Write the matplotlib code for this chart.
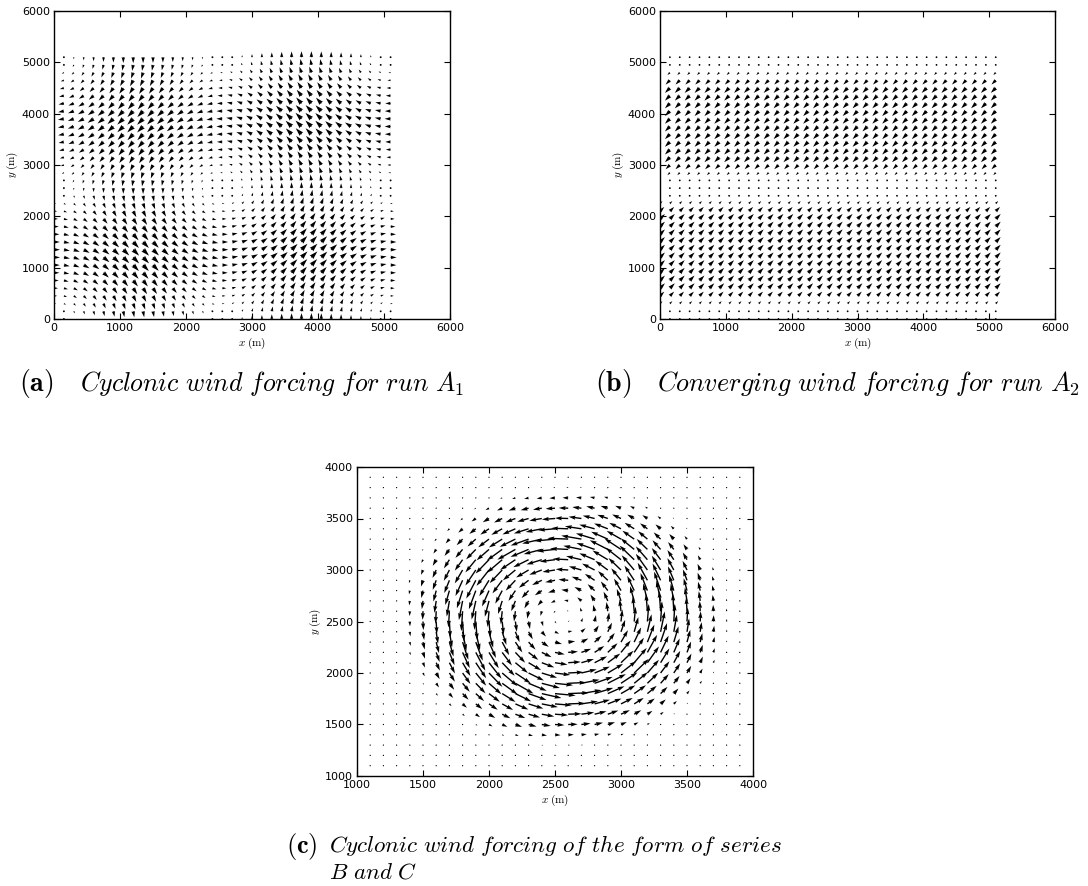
import numpy as np
import matplotlib
matplotlib.use("Agg")
import matplotlib.pyplot as plt

plt.rcParams["mathtext.fontset"] = "cm"
plt.rcParams["font.family"] = "DejaVu Sans"

# ---- forcing grids (m) ----
grid_ab = np.arange(0, 5101, 150)          # run A grid, both directions
grid_c = np.arange(1100, 3901, 100)        # series B/C grid, both directions

# ---- run A1: cellular cyclonic forcing ----
cell_period = 5100.0      # wavelength of the forcing pattern (m)
cell_amp = 1.0            # wind amplitude

# ---- run A2: two converging bands ----
band_lower = (150.0, 2400.0)   # lower band, wind towards north-east
band_upper = (2700.0, 4950.0)  # upper band, wind towards south-west
band_ramp = 450.0              # width of the smooth edge of each band (m)
band_amp = 1.0

# ---- series B/C: single cyclonic vortex ----
vortex_centre = (2570.0, 2550.0)
vortex_rmax = 750.0     # radius of maximum wind (m)
vortex_rout = 1300.0    # radius where the wind vanishes (m)
vortex_amp = 1.0

# ---------------------------------------------------------------
Xa, Ya = np.meshgrid(grid_ab, grid_ab)
Ua = cell_amp * np.sin(2 * np.pi * Ya / cell_period)
Va = -cell_amp * np.sin(2 * np.pi * Xa / cell_period)


def band_profile(y, lo, hi, ramp):
    d = np.minimum(y - lo, hi - y)
    p = np.clip(d / ramp, 0.0, 1.0)
    return np.where(d > 0, np.sin(0.5 * np.pi * p), 0.0)


sb = band_amp * (band_profile(Ya, *band_lower, band_ramp)
                 - band_profile(Ya, *band_upper, band_ramp))
Ub = sb.copy()
Vb = sb.copy()

Xc, Yc = np.meshgrid(grid_c, grid_c)
dx = Xc - vortex_centre[0]
dy = Yc - vortex_centre[1]
r = np.hypot(dx, dy)
speed = np.where(
    r < vortex_rmax,
    r / vortex_rmax,
    np.clip(1 - (r - vortex_rmax) / (vortex_rout - vortex_rmax), 0, 1),
) * vortex_amp
with np.errstate(invalid="ignore", divide="ignore"):
    Uc = np.where(r > 0, -speed * dy / r, 0.0)
    Vc = np.where(r > 0, speed * dx / r, 0.0)

# ---------------------------------------------------------------
W, H = 1088, 886
fig = plt.figure(figsize=(W / 100, H / 100), dpi=100)


def px_axes(left, top, right, bottom):
    return fig.add_axes([left / W, 1 - bottom / H, (right - left) / W, (bottom - top) / H])


def style(ax, lim_x, lim_y, ticks):
    ax.set_xlim(*lim_x)
    ax.set_ylim(*lim_y)
    ax.set_xticks(ticks)
    ax.set_yticks(ticks)
    ax.tick_params(direction="in", length=4, width=0.8, top=True, right=True,
                   labelsize=8, pad=3)
    for s in ax.spines.values():
        s.set_linewidth(1.0)
    ax.set_xlabel(r"$x\;(\mathrm{m})$", fontsize=8, labelpad=2)
    ax.set_ylabel(r"$y\;(\mathrm{m})$", fontsize=8, labelpad=1)


qkw = dict(color="k", pivot="tail", units="width", scale_units="width",
           headwidth=3, headlength=5, headaxislength=4.5)

ax_a = px_axes(54, 11, 450, 319)
ax_a.quiver(Xa, Ya, Ua, Va, scale=66, width=0.0052, **qkw)
style(ax_a, (0, 6000), (0, 6000), np.arange(0, 6001, 1000))

ax_b = px_axes(660, 11, 1055, 319)
ax_b.quiver(Xa, Ya, Ub, Vb, scale=80, width=0.0050, **qkw)
style(ax_b, (0, 6000), (0, 6000), np.arange(0, 6001, 1000))

ax_c = px_axes(357, 467, 753, 776)
ax_c.quiver(Xc, Yc, Uc, Vc, scale=19, width=0.0035, **qkw)
style(ax_c, (1000, 4000), (1000, 4000), np.arange(1000, 4001, 500))

# ---- captions ----
fig.text(19 / W, 1 - 383 / H, r"$\mathbf{(a)}$", fontsize=20, va="center", ha="left")
fig.text(80 / W, 1 - 383 / H, r"$\mathit{Cyclonic\ wind\ forcing\ for\ run\ A_1}$",
         fontsize=18.6, va="center", ha="left")
fig.text(595 / W, 1 - 383 / H, r"$\mathbf{(b)}$", fontsize=20, va="center", ha="left")
fig.text(657 / W, 1 - 383 / H, r"$\mathit{Converging\ wind\ forcing\ for\ run\ A_2}$",
         fontsize=18.8, va="center", ha="left")
fig.text(286 / W, 1 - 846 / H, r"$\mathbf{(c)}$", fontsize=19, va="center", ha="left")
fig.text(329 / W, 1 - 846 / H,
         r"$\mathit{Cyclonic\ wind\ forcing\ of\ the\ form\ of\ series}$",
         fontsize=16.6, va="center", ha="left")
fig.text(329 / W, 1 - 872 / H, r"$\mathit{B\ and\ C}$",
         fontsize=16.6, va="center", ha="left")

fig.savefig("out.png", dpi=100)
